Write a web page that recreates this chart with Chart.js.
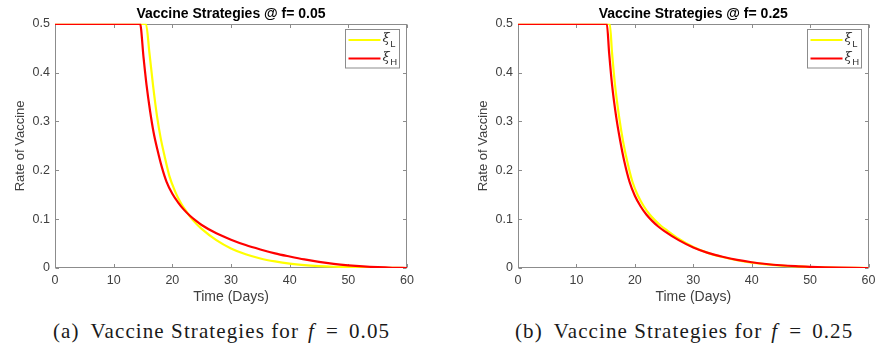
<!DOCTYPE html>
<html>
<head>
<meta charset="utf-8">
<script src="https://cdn.jsdelivr.net/npm/chart.js@4/dist/chart.umd.min.js"></script>
<style>
  html, body { margin: 0; padding: 0; background: #fff; overflow: hidden; }
  body { width: 881px; height: 346px; position: relative; }
  canvas { position: absolute; top: 0; }
  .cap {
    position: absolute; top: 319px; line-height: 24px;
    font-family: "Liberation Serif", "DejaVu Serif", serif;
    font-size: 21px; letter-spacing: 1.1px; color: #1a1a1a; white-space: nowrap;
  }
</style>
</head>
<body>
<canvas id="chartA" width="440" height="310" style="left:0px"></canvas>
<canvas id="chartB" width="418" height="310" style="left:463px"></canvas>
<div class="cap" style="left:53px"><span>(a)</span><span style="margin-left:11px">Vaccine Strategies for</span><i style="margin-left:9px">f</i><span style="margin-left:11px">=</span><span style="margin-left:10px">0.05</span></div>
<div class="cap" style="left:515px"><span>(b)</span><span style="margin-left:11px">Vaccine Strategies for</span><i style="margin-left:9px">f</i><span style="margin-left:11px">=</span><span style="margin-left:10px">0.25</span></div>
<script>
// f = 0.05
const timeLowA = [0, 15.5, 16.1, 16.7, 17.4, 18.0, 18.7, 19.5, 20.5, 21.5, 22.5, 23.5, 25, 27.5, 30, 32.5, 35, 37.5, 40, 42.5, 45, 47.5, 50, 55, 60];
const rateLowA = [0.5, 0.5, 0.44, 0.375, 0.31, 0.267, 0.228, 0.188, 0.156, 0.132, 0.114, 0.098, 0.08, 0.057, 0.04, 0.028, 0.0195, 0.0135, 0.009, 0.006, 0.004, 0.0026, 0.0016, 0.0005, 0];
const timeHighA = [0, 14.5, 15.1, 15.6, 16.2, 16.8, 17.5, 18.2, 19, 20, 21, 22, 23, 24, 25, 27.5, 30, 32.5, 35, 37.5, 40, 42.5, 45, 47.5, 50, 52.5, 55, 57.5, 60];
const rateHighA = [0.5, 0.5, 0.43, 0.375, 0.322, 0.278, 0.24, 0.207, 0.177, 0.152, 0.134, 0.119, 0.107, 0.097, 0.088, 0.071, 0.058, 0.047, 0.038, 0.03, 0.0235, 0.0175, 0.0125, 0.0085, 0.0055, 0.0032, 0.0016, 0.0005, 0];

// f = 0.25
const timeLowB = [0, 15.7, 16.1, 16.6, 17.3, 18.0, 18.7, 19.6, 20.5, 21.5, 22.5, 23.5, 24.5, 25.5, 27.5, 30, 32.5, 35, 37.5, 40, 42.5, 45, 47.5, 50, 55, 60];
const rateLowB = [0.5, 0.5, 0.44, 0.375, 0.31, 0.258, 0.218, 0.176, 0.149, 0.127, 0.11, 0.097, 0.086, 0.077, 0.06, 0.043, 0.031, 0.0225, 0.0158, 0.011, 0.0075, 0.005, 0.0032, 0.002, 0.0005, 0];
const timeHighB = [0, 15.2, 15.6, 16.1, 16.8, 17.5, 18.2, 19.1, 20, 21, 22, 23, 24, 25, 27.5, 30, 32.5, 35, 37.5, 40, 42.5, 45, 47.5, 50, 52.5, 55, 57.5, 60];
const rateHighB = [0.5, 0.5, 0.44, 0.375, 0.31, 0.26, 0.218, 0.176, 0.148, 0.126, 0.109, 0.096, 0.085, 0.076, 0.057, 0.042, 0.031, 0.023, 0.0165, 0.0118, 0.0082, 0.0056, 0.0037, 0.0024, 0.0014, 0.0007, 0.0002, 0];

const xTicks = [0, 10, 20, 30, 40, 50, 60];
const yTicks = [0, 0.1, 0.2, 0.3, 0.4, 0.5];
const seriesNames = ['ξ_L', 'ξ_H'];

const FONT = '"Liberation Sans", Arial, sans-serif';
const AXIS_GREY = '#8c8c8c';

function points(t, v) {
  return t.map((x, i) => ({ x: x, y: v[i] }));
}

// matlab-ish box with inward ticks
const boxAxes = {
  id: 'boxAxes',
  beforeDatasetsDraw(chart) {
    const { ctx, chartArea: a, scales } = chart;
    const L = Math.round(a.left) + 0.5, R = Math.round(a.right) - 0.5;
    const T = Math.round(a.top) + 0.5, B = Math.round(a.bottom) - 0.5;
    ctx.save();
    ctx.strokeStyle = AXIS_GREY;
    ctx.lineWidth = 1;
    ctx.strokeRect(L, T, R - L, B - T);
    ctx.beginPath();
    xTicks.forEach(v => {
      const px = Math.round(scales.x.getPixelForValue(v)) + 0.5;
      ctx.moveTo(px, B); ctx.lineTo(px, B - 3.5);
      ctx.moveTo(px, T); ctx.lineTo(px, T + 3.5);
    });
    yTicks.forEach(v => {
      const py = Math.round(scales.y.getPixelForValue(v)) + 0.5;
      ctx.moveTo(L, py); ctx.lineTo(L + 3.5, py);
      ctx.moveTo(R, py); ctx.lineTo(R - 3.5, py);
    });
    ctx.stroke();
    ctx.restore();
  }
};

// legend box in the top right corner, with subscripts
const boxLegend = {
  id: 'boxLegend',
  afterDatasetsDraw(chart) {
    const { ctx, chartArea: a } = chart;
    const w = 54, h = 38.5;
    const x0 = Math.round(a.right - 8 - w) + 0.5, y0 = Math.round(a.top + 5.5) + 0.5;
    ctx.save();
    ctx.fillStyle = '#fff';
    ctx.fillRect(x0, y0, w, h);
    ctx.strokeStyle = AXIS_GREY;
    ctx.lineWidth = 1;
    ctx.strokeRect(x0, y0, w, h);
    chart.data.datasets.forEach((ds, i) => {
      const y = y0 + 10.5 + i * 18.5;
      ctx.strokeStyle = ds.borderColor;
      ctx.lineWidth = 2;
      ctx.beginPath();
      ctx.moveTo(x0 + 3, y);
      ctx.lineTo(x0 + 35, y);
      ctx.stroke();
      const [main, sub] = ds.label.split('_');
      ctx.fillStyle = '#333';
      ctx.textBaseline = 'middle';
      ctx.font = 'italic 13px "DejaVu Serif", serif';
      ctx.fillText(main, x0 + 37, y - 1);
      const mw = ctx.measureText(main).width;
      ctx.font = '9.5px ' + FONT;
      ctx.fillText(sub, x0 + 37 + mw + 0.5, y + 4);
    });
    ctx.restore();
  }
};

function makeChart(id, title, tL, vL, tH, vH, padRight) {
  return new Chart(document.getElementById(id), {
    type: 'line',
    data: {
      datasets: [
        { label: seriesNames[0], data: points(tL, vL), borderColor: '#ffff00', borderWidth: 2.2, pointRadius: 0, cubicInterpolationMode: 'monotone', order: 2 },
        { label: seriesNames[1], data: points(tH, vH), borderColor: '#ff0000', borderWidth: 2.2, pointRadius: 0, cubicInterpolationMode: 'monotone', order: 1 }
      ]
    },
    options: {
      responsive: false,
      animation: false,
      devicePixelRatio: 1,
      events: [],
      layout: { padding: { left: 0, right: padRight, top: 0, bottom: 0 } },
      plugins: {
        legend: { display: false },
        tooltip: { enabled: false },
        title: {
          display: true, text: title, fullSize: false, color: '#000',
          font: { family: FONT, size: 14, weight: 'bold' },
          padding: { top: 6, bottom: 1 }
        }
      },
      scales: {
        x: {
          type: 'linear', min: 0, max: 60,
          afterBuildTicks: s => { s.ticks = xTicks.map(v => ({ value: v })); },
          afterFit: s => { s.height = 42; },
          grid: { display: false, drawTicks: false },
          border: { display: false },
          ticks: { padding: 5.5, color: '#404040', font: { family: FONT, size: 12.5 }, maxRotation: 0 },
          title: { display: true, text: 'Time (Days)', color: '#404040', font: { family: FONT, size: 14 }, padding: { top: 0, bottom: 4 } }
        },
        y: {
          type: 'linear', min: 0, max: 0.5,
          afterBuildTicks: s => { s.ticks = yTicks.map(v => ({ value: v })); },
          afterFit: s => { s.width = 55; },
          grid: { display: false, drawTicks: false },
          border: { display: false },
          ticks: { padding: 5, color: '#404040', font: { family: FONT, size: 12.5 }, callback: v => String(v) },
          title: { display: true, text: 'Rate of Vaccine', color: '#404040', font: { family: FONT, size: 13 }, padding: { top: 13, bottom: 0 } }
        }
      }
    },
    plugins: [boxAxes, boxLegend]
  });
}

makeChart('chartA', 'Vaccine Strategies @ f= 0.05', timeLowA, rateLowA, timeHighA, rateHighA, 33);
makeChart('chartB', 'Vaccine Strategies @ f= 0.25', timeLowB, rateLowB, timeHighB, rateHighB, 11);
</script>
</body>
</html>
